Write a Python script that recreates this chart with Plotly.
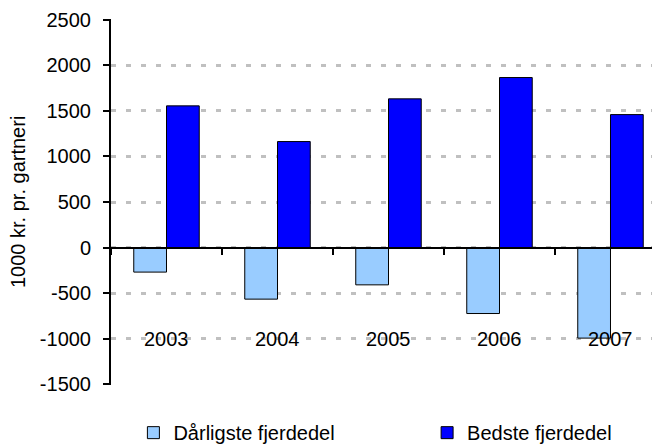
import plotly.graph_objects as go

years = ["2003", "2004", "2005", "2006", "2007"]
worst_quarter = [-270, -567, -410, -725, -995]
best_quarter = [1556, 1164, 1633, 1867, 1460]
series_names = ["Dårligste fjerdedel", "Bedste fjerdedel"]
y_ticks = [-1500, -1000, -500, 0, 500, 1000, 1500, 2000, 2500]
y_title = "1000 kr. pr. gartneri"

FONT = "Liberation Sans, Arial, sans-serif"

fig = go.Figure()
fig.add_trace(go.Bar(x=years, y=worst_quarter, name=series_names[0], legend="legend",
                     marker=dict(color="#99ccff", line=dict(color="black", width=1))))
fig.add_trace(go.Bar(x=years, y=best_quarter, name=series_names[1], legend="legend2",
                     marker=dict(color="#0000ff", line=dict(color="black", width=1))))

for i, yr in enumerate(years):
    fig.add_annotation(x=i, y=-1000, xref="x", yref="y", text=yr, showarrow=False,
                       xanchor="center", yanchor="middle",
                       font=dict(family=FONT, size=20, color="black"))

fig.add_annotation(x=-0.1694, y=0.5, xref="paper", yref="paper", text=y_title,
                   textangle=-90, showarrow=False, xanchor="center", yanchor="middle",
                   font=dict(family=FONT, size=20, color="black"))

legend_common = dict(orientation="h", xref="container", yref="container",
                     y=0.05, xanchor="left", yanchor="middle",
                     font=dict(family=FONT, size=20, color="black"),
                     bgcolor="rgba(0,0,0,0)")

fig.update_layout(
    width=660, height=447,
    margin=dict(l=103, r=8, t=11, b=70, autoexpand=False),
    paper_bgcolor="white", plot_bgcolor="white",
    barmode="group", bargap=0.41, bargroupgap=0,
    font=dict(family=FONT, size=20, color="black"),
    showlegend=True,
    legend=dict(x=0.19, **legend_common),
    legend2=dict(x=0.635, **legend_common),
)
fig.update_xaxes(
    type="category", range=[-0.5, 4.446],
    anchor="free", position=1510 / 4020,
    showline=True, linecolor="black", linewidth=2,
    ticks="outside", tickson="boundaries", ticklen=6, tickcolor="black", tickwidth=2,
    showticklabels=False, showgrid=False, zeroline=False,
)
fig.update_yaxes(
    range=[-1510, 2510], tickvals=y_ticks, ticktext=[str(v) for v in y_ticks],
    showline=True, linecolor="black", linewidth=2,
    ticks="outside", ticklen=6, tickcolor="black", tickwidth=2,
    ticklabelstandoff=8,
    showgrid=True, gridcolor="#c0c0c0", gridwidth=3, griddash="5px,10px",
    zeroline=False,
    tickfont=dict(family=FONT, size=20, color="black"),
    automargin=False,
)

fig.write_html("out.html")
